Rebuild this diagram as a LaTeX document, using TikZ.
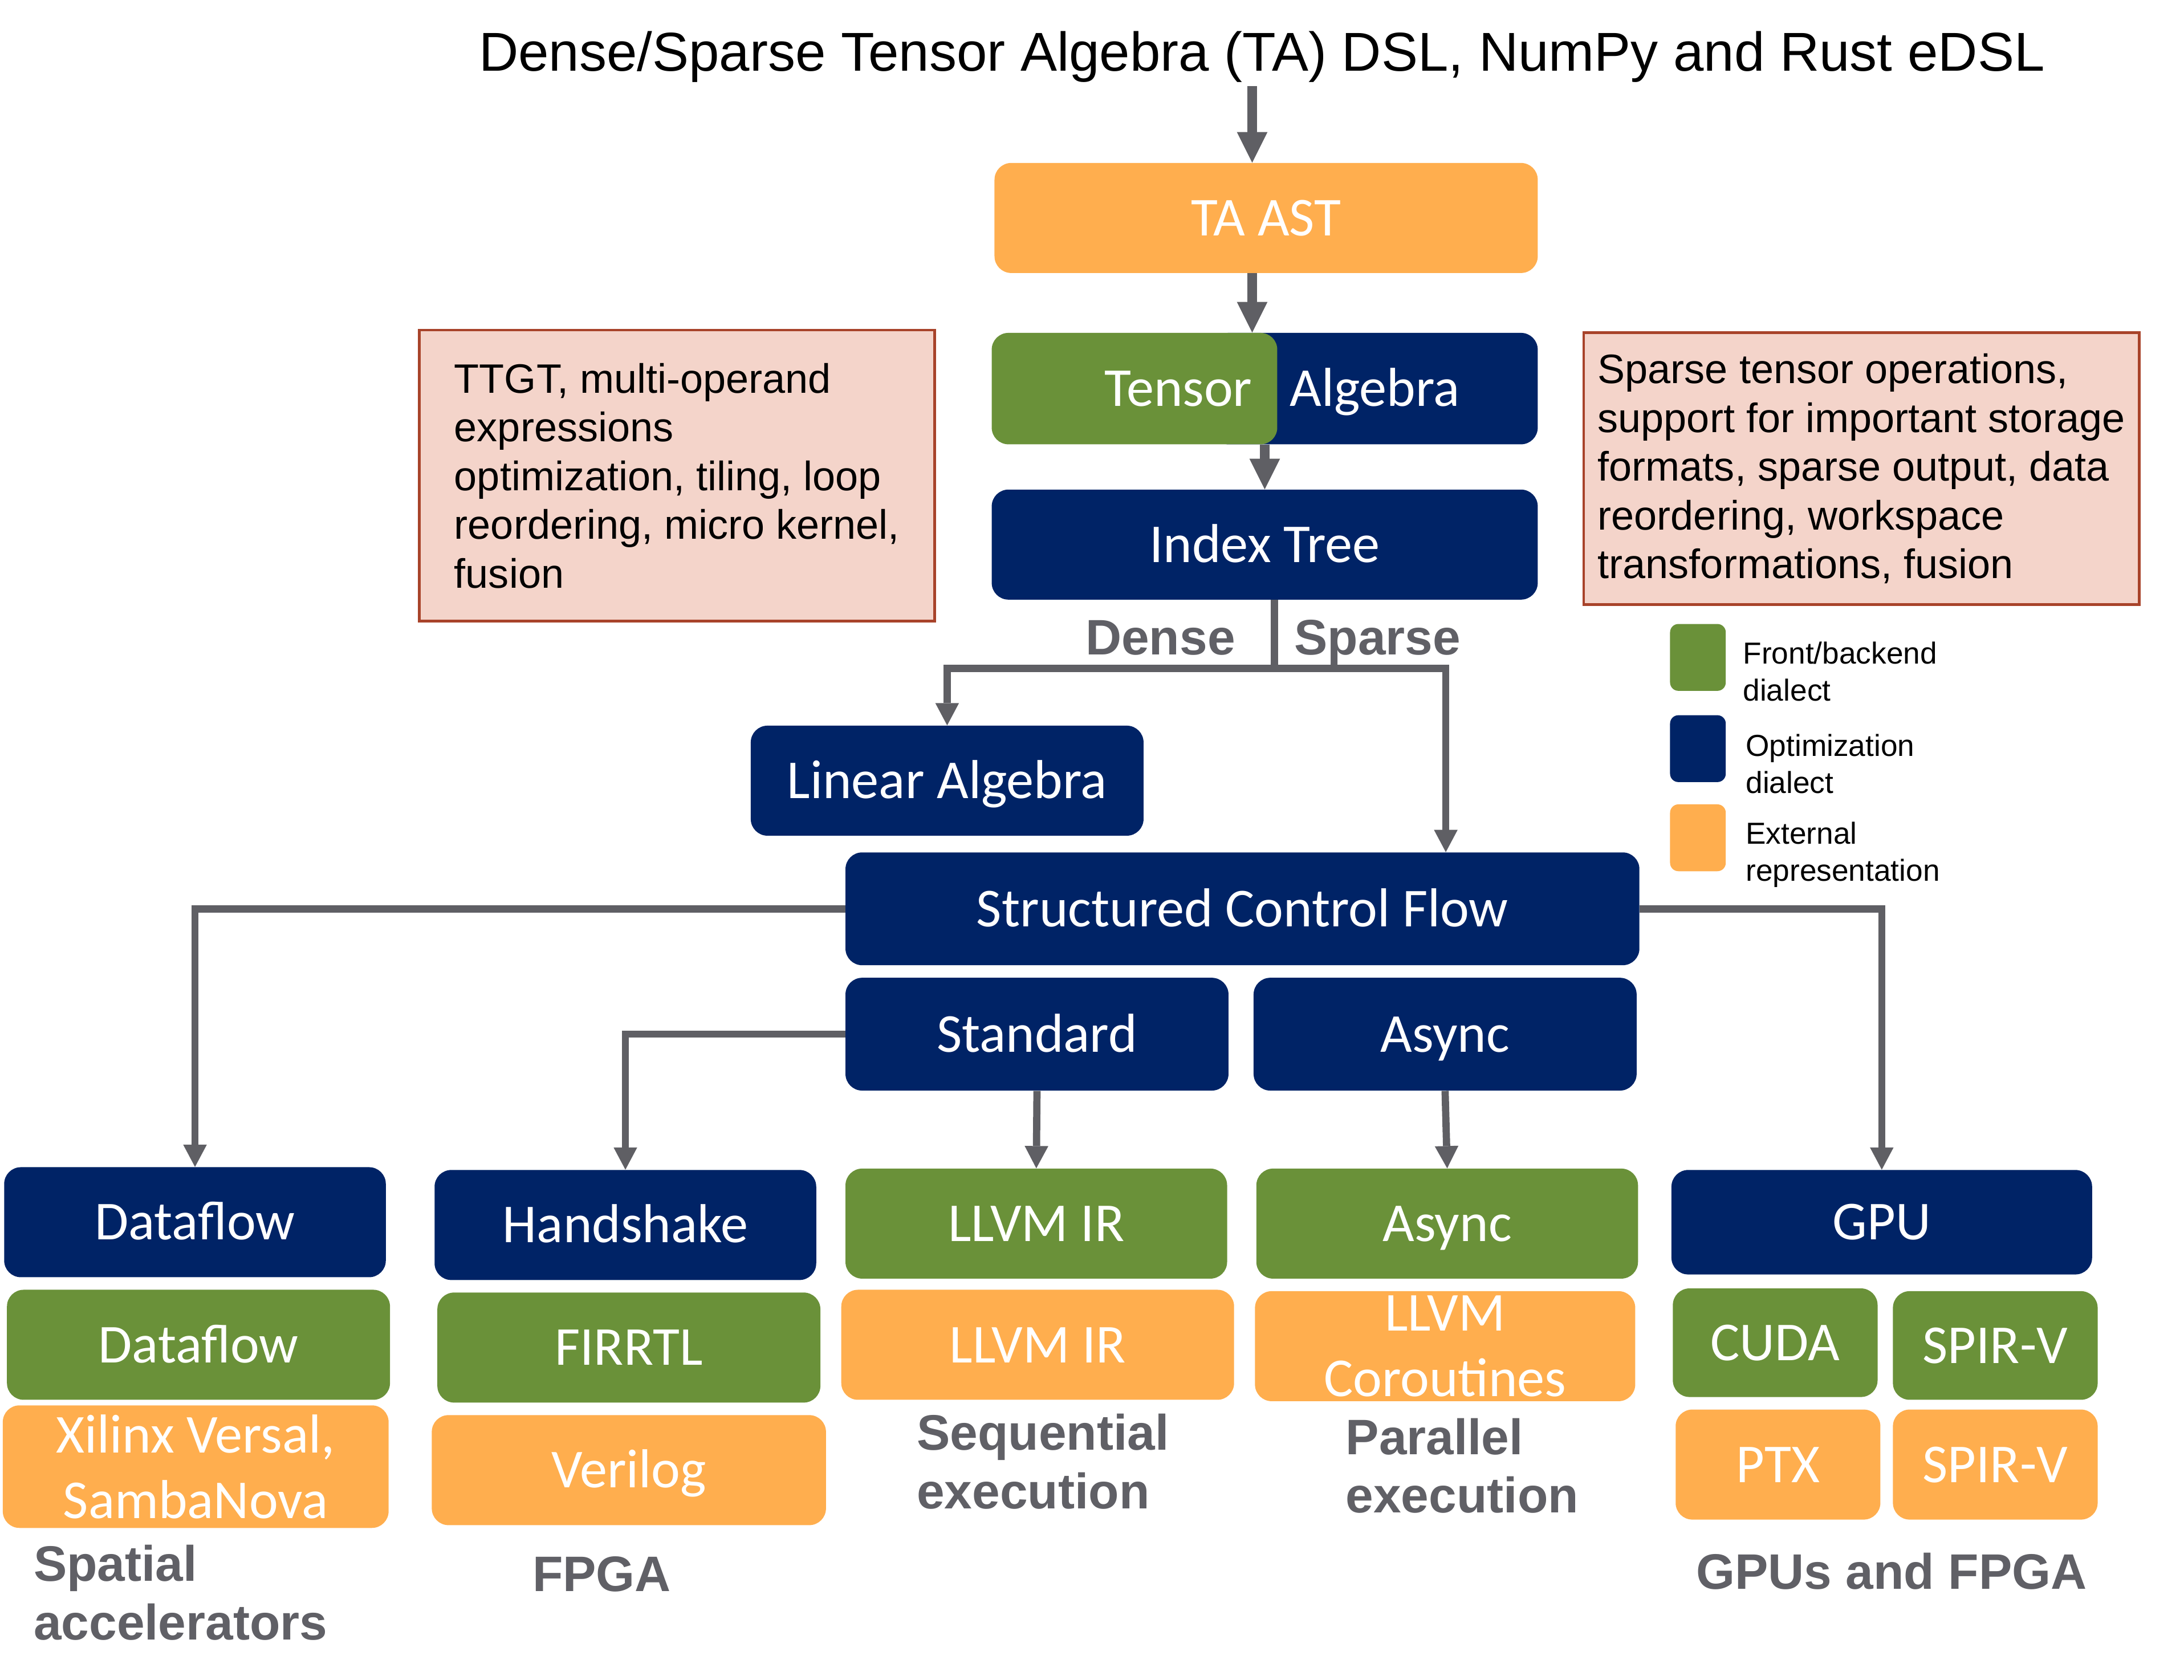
\documentclass[tikz,border=0pt]{standalone}
\usepackage{fontspec}
\setmainfont{Liberation Sans}
\newfontfamily\boxfont{Carlito}
\usetikzlibrary{arrows.meta}

\definecolor{dialnavy}{HTML}{002366}
\definecolor{dialgreen}{HTML}{6A9139}
\definecolor{extorange}{HTML}{FFAE4E}
\definecolor{linegray}{HTML}{5F5F64}
\definecolor{labelgray}{HTML}{606066}
\definecolor{notefill}{HTML}{F4D4CA}
\definecolor{noteline}{HTML}{A8432A}

\begin{document}
\begin{tikzpicture}[x=1pt,y=-1pt]
    \tikzset{
        dbox/.style={rounded corners=12pt, inner sep=0pt, text=white,
            font=\boxfont\fontsize{39.4}{47}\selectfont, align=center,
            text height=25.4pt, text depth=0pt, minimum height=79pt},
        twolines/.style={text height=, text depth=},
        front/.style={dbox, fill=dialgreen},
        opt/.style={dbox, fill=dialnavy},
        ext/.style={dbox, fill=extorange},
        note/.style={draw=noteline, line width=2pt, fill=notefill, align=left,
            inner sep=0pt, font=\fontsize{29.5}{35}\selectfont},
        tag/.style={text=labelgray, inner sep=0pt, align=left,
            font=\bfseries\fontsize{35.8}{42}\selectfont},
        key/.style={rounded corners=6pt, minimum width=40pt, minimum height=48pt,
            inner sep=0pt},
        keytext/.style={anchor=west, align=left, inner sep=0pt,
            font=\fontsize{21.8}{26.6}\selectfont},
        wire/.style={draw=linegray, line width=5.2pt},
        arr/.style={wire, -{Triangle[width=17pt,length=16pt,line width=0pt]}},
        bigarr/.style={draw=linegray, line width=6.6pt,
            -{Triangle[width=22pt,length=22pt,line width=0pt]}},
    }
    \useasboundingbox (0,0) rectangle (1568,1206);

    % Title
    \node[anchor=base, inner sep=0pt, font=\fontsize{39.3}{47}\selectfont]
        (title) at (906,51) {Dense/Sparse Tensor Algebra (TA) DSL, NumPy and Rust eDSL};
    \coordinate (src) at (899,62);

    % Upper boxes
    \node[ext, minimum width=390pt] (taast) at (909,156.5) {TA AST};
    \node[opt, minimum width=234pt, minimum height=80pt] (tensalg) at (987,279) {Algebra};
    \node[front, minimum width=205pt, minimum height=80pt, text width=169pt,
        align=right, inner xsep=18pt] (tensor) at (814.5,279) {Tensor};
    \node[opt, minimum width=392pt] (idxtree) at (908,391) {Index Tree};
    \node[opt, minimum width=282pt] (linalg) at (680,560.5) {Linear Algebra};
    \node[opt, minimum width=570pt, minimum height=81pt] (scf) at (892,652.5) {Structured Control Flow};
    \node[opt, minimum width=275pt, minimum height=81pt] (std) at (744.5,742.5) {Standard};
    \node[opt, minimum width=275pt, minimum height=81pt] (async) at (1037.5,742.5) {Async};

    % Notes
    \node[note, minimum width=370pt, minimum height=209pt] (densenote) at (486,341.5)
        {TTGT, multi-operand\\expressions\\optimization, tiling, loop\\reordering, micro kernel,\\fusion};
    \node[note, minimum width=399pt, minimum height=195pt] (sparsenote) at (1336.5,336.5)
        {Sparse tensor operations,\\support for important storage\\formats, sparse output, data\\reordering, workspace\\transformations, fusion};
    \node[tag, anchor=base east] (dense) at (887,470) {Dense};
    \node[tag, anchor=base west] (sparse) at (929,470) {Sparse};

    % Legend
    \node[key, fill=dialgreen] (keyfront) at (1219,472) {};
    \node[key, fill=dialnavy] (keyopt) at (1219,537.5) {};
    \node[key, fill=extorange] (keyext) at (1219,601.5) {};
    \node[keytext] (keyfronttxt) at ([xshift=12pt,yshift=-10pt]keyfront.east) {Front/backend\\dialect};
    \node[keytext] (keyopttxt) at ([xshift=14pt,yshift=-11pt]keyopt.east) {Optimization\\dialect};
    \node[keytext] (keyexttxt) at ([xshift=14pt,yshift=-12pt]keyext.east) {External\\representation};

    % Spatial accelerators
    \node[opt, minimum width=274pt] (dfnavy) at (140,877.5) {Dataflow};
    \node[front, minimum width=275pt] (dfgreen) at (142.5,965.5) {Dataflow};
    \node[ext, twolines, minimum width=277pt, minimum height=88pt] (xilinx) at (140.5,1053) {Xilinx Versal,\\SambaNova};
    \node[tag, anchor=north west] (spatial) at (24,1109) {Spatial\\accelerators};

    % FPGA
    \node[opt, minimum width=274pt] (hshake) at (449,879.5) {Handshake};
    \node[front, minimum width=275pt] (firrtl) at (451.5,967.5) {FIRRTL};
    \node[ext, minimum width=283pt] (verilog) at (451.5,1055.5) {Verilog};
    \node[tag] (fpga) at (432,1130) {FPGA};

    % Sequential execution
    \node[front, minimum width=274pt] (llvmg) at (744,878.5) {LLVM IR};
    \node[ext, minimum width=282pt] (llvmo) at (745,965.5) {LLVM IR};
    \node[tag, anchor=north west] (seq) at (658,1015) {Sequential\\execution};

    % Parallel execution
    \node[front, minimum width=274pt] (asyncg) at (1039,878.5) {Async};
    \node[ext, twolines, minimum width=273pt] (corout) at (1037.5,966.5) {LLVM\\Coroutines};
    \node[tag, anchor=north west] (par) at (966,1018) {Parallel\\execution};

    % GPUs and FPGA
    \node[opt, minimum width=302pt, minimum height=75pt] (gpu) at (1351,877.5) {GPU};
    \node[front, minimum width=147pt, minimum height=78pt] (cuda) at (1274.5,964) {CUDA};
    \node[front, minimum width=147pt, minimum height=78pt] (spirvg) at (1432.5,966) {SPIR-V};
    \node[ext, minimum width=147pt] (ptx) at (1276.5,1051.5) {PTX};
    \node[ext, minimum width=147pt] (spirvo) at (1432.5,1051.5) {SPIR-V};
    \node[tag] (gpufpga) at (1358,1128) {GPUs and FPGA};

    % Arrows
    \draw[bigarr] (src) -- ([xshift=-10pt]taast.north);
    \draw[bigarr] ([xshift=-10pt]taast.south) -- ([xshift=-10pt]taast.south |- tensor.north);
    \draw[bigarr] (idxtree.north |- tensor.south) -- (idxtree.north);
    \coordinate (split) at (915,480);
    \draw[wire] ([xshift=7pt]idxtree.south) -- (split);
    \draw[arr] (split) -| (linalg.north);
    \draw[arr] (split) -| ([xshift=146pt]scf.north);
    \draw[arr] (scf.west) -| (dfnavy.north);
    \draw[arr] (scf.east) -| (gpu.north);
    \draw[arr] (std.west) -| (hshake.north);
    \draw[arr] (std.south) -- (llvmg.north);
    \draw[arr] (async.south) -- (asyncg.north);

\end{tikzpicture}
\end{document}
